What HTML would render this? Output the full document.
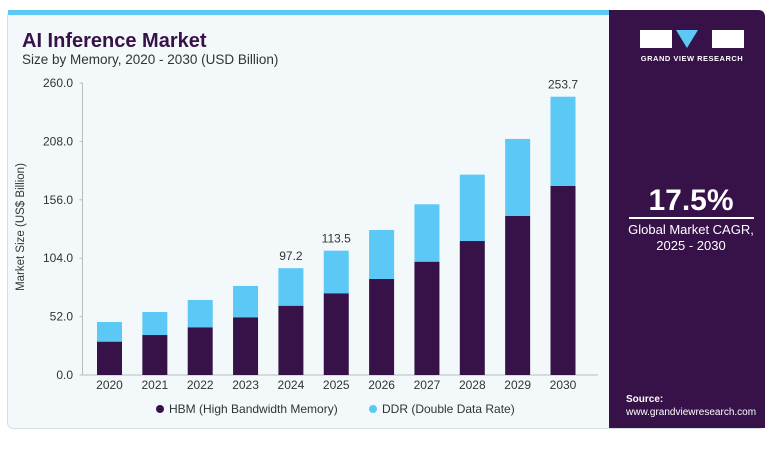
<!DOCTYPE html>
<html><head><meta charset="utf-8"><style>
html,body{margin:0;padding:0;background:#fff;}
body{width:773px;height:449px;position:relative;overflow:hidden;font-family:"Liberation Sans",sans-serif;}
</style></head><body>
<svg width="773" height="449" viewBox="0 0 773 449" xmlns="http://www.w3.org/2000/svg">
<rect x="7.5" y="10.5" width="757" height="418" rx="6" fill="#f3f8fb" stroke="#d8dde2"/>
<rect x="8" y="10" width="602" height="5" fill="#5bc8f5"/>
<path d="M609 10 H758 Q765 10 765 17 V428 H609 Z" fill="#371248"/>
<text x="22" y="47" font-size="20" font-weight="bold" fill="#371248">AI Inference Market</text>
<text x="22" y="64" font-size="13.5" fill="#333">Size by Memory, 2020 - 2030 (USD Billion)</text>
<g>
<rect x="640" y="30" width="32" height="18" fill="#fff"/>
<polygon points="676,30 698,30 687,48" fill="#5bc8f5"/>
<rect x="712" y="30" width="32" height="18" fill="#fff"/>
<text x="692" y="61" font-size="7.5" font-weight="bold" fill="#fff" text-anchor="middle" letter-spacing="0.5">GRAND VIEW RESEARCH</text>
</g>
<text x="691" y="210" font-size="30" font-weight="bold" fill="#fff" text-anchor="middle">17.5%</text>
<rect x="629" y="217" width="125" height="2" fill="#fff"/>
<text x="691" y="234" font-size="13" fill="#fff" text-anchor="middle">Global Market CAGR,</text>
<text x="691" y="250" font-size="13" fill="#fff" text-anchor="middle">2025 - 2030</text>
<text x="626" y="402" font-size="10" font-weight="bold" fill="#fff">Source:</text>
<text x="626" y="415" font-size="10" fill="#fff">www.grandviewresearch.com</text>
<text transform="translate(24,227) rotate(-90)" font-size="11.5" fill="#333" text-anchor="middle">Market Size (US$ Billion)</text>
<g id="plot"></g>
<g>
<circle cx="160" cy="409" r="4" fill="#371248"/>
<text x="169" y="413" font-size="12" fill="#333">HBM (High Bandwidth Memory)</text>
<circle cx="373" cy="409" r="4" fill="#5bc8f5"/>
<text x="382" y="413" font-size="12" fill="#333">DDR (Double Data Rate)</text>
</g>
</svg>
<script>
const years=["2020","2021","2022","2023","2024","2025","2026","2027","2028","2029","2030"];
const hbm=[29.7,35.6,42.5,51.4,61.7,72.8,85.5,100.9,119.3,141.6,168.3];
const totals=[47.2,56.1,66.8,79.3,95.1,110.7,129.1,152.0,178.4,210.2,247.8];
const yTicks=[0,52,104,156,208,260];
const totalLabels={"2024":"97.2","2025":"113.5","2030":"253.7"};
const NS="http://www.w3.org/2000/svg";
const g=document.getElementById('plot');
const y0=375,y1=83,x0=82.5,x1=598;
const yS=v=>y0-(v/260)*(y0-y1);
const xC=i=>109.5+i*45.35;
function mk(t,a){const e=document.createElementNS(NS,t);for(const k in a)e.setAttribute(k,a[k]);g.appendChild(e);return e;}
let ax=mk('line',{x1:x0,y1:y1,x2:x0,y2:y0,stroke:'#bbb'});


let bx=mk('line',{x1:x0,y1:y0,x2:x1,y2:y0,stroke:'#bbb'});


yTicks.forEach(v=>{
 const tk=mk('line',{x1:x0-3,y1:yS(v),x2:x0,y2:yS(v),stroke:'#bbb'});
 
 
 const t=mk('text',{x:73,y:yS(v)+4,'font-size':12,fill:'#333','text-anchor':'end'});
 t.textContent=v.toFixed(1);
 
 
});
years.forEach((yr,i)=>{
 const x=xC(i)-12.5;
 const b1=mk('rect',{x:x,y:yS(hbm[i]),width:25,height:y0-yS(hbm[i]),fill:'#371248'});
 
 
 const b2=mk('rect',{x:x,y:yS(totals[i]),width:25,height:yS(hbm[i])-yS(totals[i]),fill:'#5bc8f5'});
 
 
 const t=mk('text',{x:xC(i),y:389,'font-size':12,fill:'#333','text-anchor':'middle'});
 t.textContent=yr;
 
 
 if(totalLabels[yr]){
  const l=mk('text',{x:xC(i),y:yS(totals[i])-8,'font-size':12,fill:'#333','text-anchor':'middle'});
  l.textContent=totalLabels[yr];
  
  
 }
});
</script>
</body></html>
